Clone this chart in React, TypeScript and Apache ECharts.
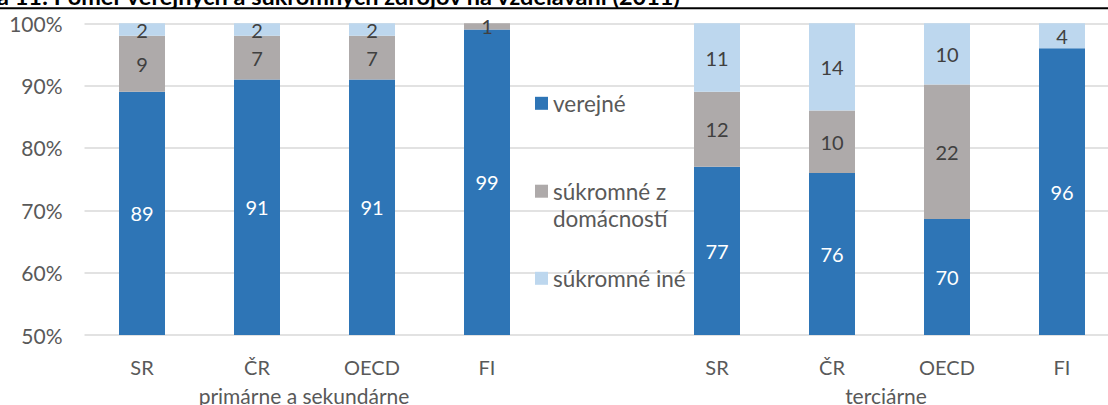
import React, { useEffect, useRef } from "react";
import * as echarts from "echarts";

// ---- data ----
const categories = ["SR", "ČR", "OECD", "FI", "", "SR", "ČR", "OECD", "FI"];
const groupLabels = ["primárne a sekundárne", "terciárne"];
const seriesNames = ["verejné", "súkromné z domácností", "súkromné iné"];
const verejne = [89, 91, 91, 99, null, 77, 76, 70, 96];
const domacnosti = [9, 7, 7, 1, null, 12, 10, 22, 0];
const ine = [2, 2, 2, 0, null, 11, 14, 10, 4];
const yTicks = [50, 60, 70, 80, 90, 100];
const titleText = "a 11: Pomer verejných a súkromných zdrojov na vzdelávaní (2011)";

const FONT = "Lato, 'Open Sans', sans-serif";
const COLORS = ["#2E75B6", "#AEAAAA", "#BDD7EE"];

export default function App() {
  const ref = useRef<HTMLDivElement>(null);
  useEffect(() => {
    if (!ref.current) return;
    document.documentElement.style.overflow = "hidden";
    document.body.style.overflow = "hidden";
    document.body.style.margin = "0";
    const chart = echarts.init(ref.current, null, { renderer: "svg" });
    const raw = [verejne, domacnosti, ine];
    const totals = categories.map((_, i) =>
      raw.reduce((s, arr) => s + (arr[i] ?? 0), 0)
    );
    const series = raw.map((arr, si) => ({
      name: seriesNames[si],
      type: "bar",
      stack: "total",
      barWidth: 46,
      itemStyle: { color: COLORS[si] },
      label: {
        show: true,
        position: "inside",
        fontFamily: FONT,
        fontSize: 20,
        color: si === 0 ? "#FFFFFF" : "#404040",
        formatter: (p: any) => (p.data && p.data.raw ? String(p.data.raw) : ""),
      },
      data: arr.map((v, i) =>
        v == null || v === 0 || !totals[i]
          ? "-"
          : { value: (v / totals[i]) * 100, raw: v }
      ),
    }));
    const legendText = { color: "#595959", fontSize: 22.5, fontFamily: FONT };
    const legendBase = {
      orient: "vertical",
      left: 535,
      padding: 0,
      icon: "rect",
      itemWidth: 13,
      itemHeight: 13,
      itemGap: 0,
      selectedMode: false,
    };
    chart.setOption({
      animation: false,
      textStyle: { fontFamily: FONT },
      grid: { left: 84.5, top: 23.3, width: 1035, height: 311.7 },
      xAxis: {
        type: "category",
        data: categories,
        axisLine: { show: false },
        axisTick: { show: false },
        axisLabel: { color: "#595959", fontSize: 20, fontFamily: FONT, margin: 22, interval: 0 },
      },
      yAxis: {
        type: "value",
        min: yTicks[0],
        max: yTicks[yTicks.length - 1],
        interval: 10,
        axisLine: { show: false },
        axisTick: { show: false },
        axisLabel: {
          color: "#595959",
          fontSize: 21,
          fontFamily: FONT,
          margin: 22,
          formatter: "{value}%",
        },
        splitLine: { lineStyle: { color: "#D9D9D9", width: 1.5 } },
      },
      legend: [
        {
          ...legendBase,
          top: 91.3,
          data: [seriesNames[0]],
          textStyle: { ...legendText, lineHeight: 24 },
        },
        {
          ...legendBase,
          top: 149.8,
          data: [seriesNames[1]],
          formatter: () => "\nsúkromné z\ndomácností",
          textStyle: { ...legendText, lineHeight: 27.6 },
        },
        {
          ...legendBase,
          top: 266.3,
          data: [seriesNames[2]],
          textStyle: { ...legendText, lineHeight: 24 },
        },
      ],
      graphic: [
        {
          type: "line",
          shape: { x1: 0, y1: 8.3, x2: 1108, y2: 8.3 },
          style: { stroke: "#000000", lineWidth: 2 },
        },
        {
          type: "text",
          x: -3,
          y: 7.5,
          style: {
            text: titleText,
            fontSize: 23.5,
            fontWeight: "bold",
            fontFamily: FONT,
            fill: "#000000",
            align: "left",
            verticalAlign: "bottom",
          },
        },
        {
          type: "text",
          x: 304,
          y: 395.5,
          style: {
            text: groupLabels[0],
            fontSize: 21,
            fontFamily: FONT,
            fill: "#595959",
            align: "center",
            verticalAlign: "middle",
          },
        },
        {
          type: "text",
          x: 886,
          y: 395.5,
          style: {
            text: groupLabels[1],
            fontSize: 21,
            fontFamily: FONT,
            fill: "#595959",
            align: "center",
            verticalAlign: "middle",
          },
        },
      ],
      series,
    });
    return () => chart.dispose();
  }, []);
  return (
    <div
      ref={ref}
      style={{ position: "fixed", left: 0, top: 0, width: 1120, height: 405, background: "#fff" }}
    />
  );
}
